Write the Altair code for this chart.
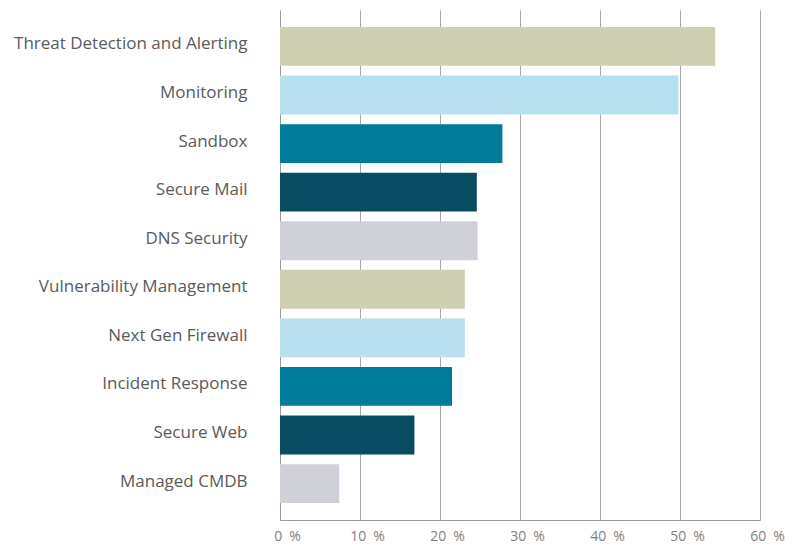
import altair as alt
import pandas as pd

categories = [
    "Threat Detection and Alerting",
    "Monitoring",
    "Sandbox",
    "Secure Mail",
    "DNS Security",
    "Vulnerability Management",
    "Next Gen Firewall",
    "Incident Response",
    "Secure Web",
    "Managed CMDB",
]
values = [54.4, 49.8, 27.8, 24.6, 24.7, 23.1, 23.1, 21.5, 16.8, 7.4]
colors = ["#cfcfb1", "#b8dff0", "#007b99", "#074c62", "#d0d1d8",
          "#cfcfb1", "#b8dff0", "#007b99", "#074c62", "#d0d1d8"]
x_ticks = [0, 10, 20, 30, 40, 50, 60]

df = pd.DataFrame({"category": categories, "value": values})

chart = alt.Chart(df).mark_bar().encode(
    y=alt.Y(
        "category:N",
        sort=categories,
        scale=alt.Scale(paddingInner=0.2, paddingOuter=0.35),
        axis=alt.Axis(
            title=None,
            ticks=False,
            tickSize=0,
            labelPadding=33,
            labelFont="Open Sans",
            labelFontSize=17,
            labelColor="#5a5a5a",
            labelLimit=400,
            labelOffset=-2,
            domain=True,
            domainColor="#9a9a9a",
            domainWidth=1,
            grid=False,
        ),
    ),
    x=alt.X(
        "value:Q",
        scale=alt.Scale(domain=[0, 60], nice=False),
        axis=alt.Axis(
            title=None,
            values=x_ticks,
            labelExpr="datum.value + '\u2002%'",
            ticks=False,
            tickSize=0,
            labelPadding=9,
            labelFont="Open Sans",
            labelFontSize=14,
            labelColor="#808080",
            labelOffset=7,
            labelFlush=False,
            domainColor="#9a9a9a",
            grid=True,
            gridColor="#a8a8a8",
            gridWidth=1,
        ),
    ),
    color=alt.Color(
        "category:N",
        scale=alt.Scale(domain=categories, range=colors),
        legend=None,
    ),
).properties(
    width=480,
    height=510,
    autosize=alt.AutoSizeParams(type="none"),
    padding={"left": 272, "top": 2, "right": 28, "bottom": 24},
).configure_view(strokeWidth=0)

chart.save("out.html", embed_options={"renderer": "svg", "actions": False})
